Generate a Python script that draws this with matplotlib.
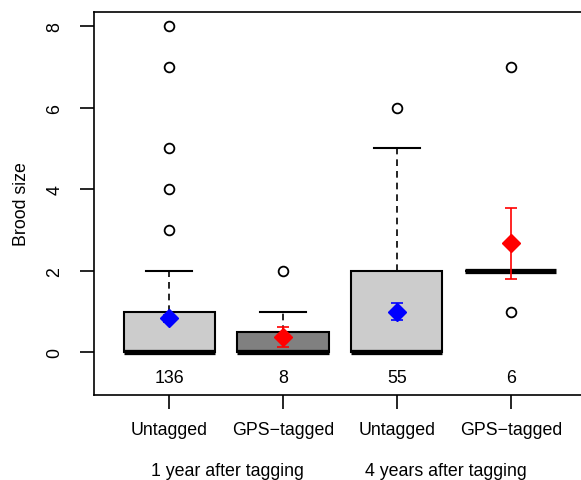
import matplotlib
matplotlib.use("Agg")
import matplotlib.pyplot as plt

plt.rcParams['font.family'] = ['Liberation Sans', 'DejaVu Sans']

# Data
positions = [1, 2, 3, 4]
tick_labels = ['Untagged', 'GPS\u2212tagged', 'Untagged', 'GPS\u2212tagged']
group_labels = ['1 year after tagging', '4 years after tagging']
group_pos = [1.51, 3.43]
counts = [136, 8, 55, 6]

q1 = [0, 0, 0, 2]
med = [0, 0, 0, 2]
q3 = [1, 0.5, 2, 2]
whislo = [0, 0, 0, 2]
whishi = [2, 1, 5, 2]
fliers = [[3, 4, 5, 7, 8], [2], [6], [1, 7]]

means = [0.83, 0.37, 1.0, 2.67]
err_lo = [0.75, 0.12, 0.78, 1.80]
err_hi = [0.91, 0.63, 1.22, 3.54]
mean_colors = ['blue', 'red', 'blue', 'red']
box_colors = ['#cccccc', '#808080', '#cccccc', '#cccccc']

stats = []
for i in range(4):
    stats.append(dict(q1=q1[i], med=med[i], q3=q3[i], whislo=whislo[i],
                      whishi=whishi[i], fliers=fliers[i]))

fig = plt.figure(figsize=(5.81, 4.81), dpi=100)
W, H = 581, 481
ax = fig.add_axes([94 / W, 1 - 396 / H, (586 - 94) / W, (396 - 13) / H])

bp = ax.bxp(stats, positions=positions, widths=0.8, capwidths=0.4,
            patch_artist=True, showfliers=True,
            boxprops=dict(edgecolor='black', linewidth=1.5),
            medianprops=dict(color='black', linewidth=3.8, solid_capstyle='butt'),
            whiskerprops=dict(color='black', linewidth=1.2, linestyle=(0, (4, 3))),
            capprops=dict(color='black', linewidth=1.5),
            flierprops=dict(marker='o', markerfacecolor='none',
                            markeredgecolor='black', markersize=7,
                            markeredgewidth=1.3))
for patch, c in zip(bp['boxes'], box_colors):
    patch.set_facecolor(c)

# means with error bars
for i in range(4):
    ax.errorbar(positions[i], means[i],
                yerr=[[means[i] - err_lo[i]], [err_hi[i] - means[i]]],
                fmt='none', ecolor=mean_colors[i], elinewidth=1.2,
                capsize=4, capthick=1.2, zorder=4)
    ax.plot(positions[i], means[i], marker='D', color=mean_colors[i],
            markersize=9.5, linestyle='none', zorder=5)
    ax.text(positions[i], -0.61, str(counts[i]), ha='center', va='center',
            fontsize=12.8)

ax.set_xlim(0.34, 4.66)
ax.set_ylim(-1.048, 8.348)
ax.set_xticks(positions)
ax.set_xticklabels(tick_labels, fontsize=12.8)
ax.set_yticks([0, 2, 4, 6, 8])
ax.set_yticklabels(['0', '2', '4', '6', '8'], rotation=90, va='center',
                   fontsize=12.8)
ax.tick_params(axis='both', length=10, width=1.2)
ax.tick_params(axis='x', pad=9)
ax.tick_params(axis='y', pad=12)
ax.spines['right'].set_visible(False)
for s in ['left', 'top', 'bottom']:
    ax.spines[s].set_linewidth(1.2)

ax.set_ylabel('Brood size', fontsize=12.8, labelpad=12)

for gp, gl in zip(group_pos, group_labels):
    ax.text(gp, -1.048 - 75 / 40.75, gl, ha='center', va='center',
            fontsize=12.8, clip_on=False)

fig.savefig('out.png', dpi=100)
